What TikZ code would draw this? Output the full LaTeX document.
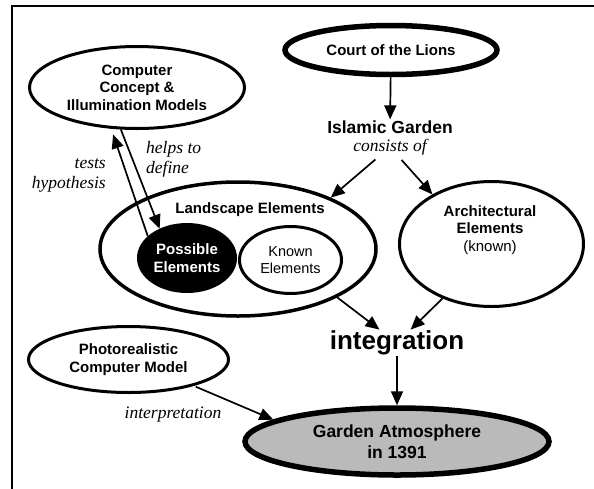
\documentclass[tikz,border=0pt]{standalone}
\usepackage{fontspec}
\setmainfont{Liberation Sans}
\newfontfamily\notefont{Liberation Serif}
\usepackage{tikz}
\usetikzlibrary{arrows.meta}
\usetikzlibrary{shapes.geometric}
\definecolor{gardengray}{gray}{0.73}
\tikzset{bubble/.style={ellipse, draw, line width=3pt, fill=white, inner sep=0pt, align=center, font=\bfseries\fontsize{15}{17.5}\selectfont}, heavy bubble/.style={bubble, line width=5.5pt}, link/.style={-{Triangle[length=14pt,width=12pt]}, line width=1.7pt}, note/.style={font=\notefont\itshape\fontsize{17.5}{20}\selectfont, inner sep=1pt}, title/.style={font=\bfseries\fontsize{17.5}{20}\selectfont, inner sep=1pt}}

\begin{document}
\begin{tikzpicture}[x=1pt,y=-1pt]
\useasboundingbox (0,0) rectangle (594,488);
\clip (0,0) rectangle (594,488);
\draw[line width=1.8pt] (12,6) rectangle (610,500);

\node[heavy bubble, minimum width=212pt, minimum height=49pt] (lions) at (391,50) {Court of the Lions};
\node[title] (islam) at (390,127) {Islamic Garden};
\node[note] (consists) at (390,147) {consists of};

\node[bubble, minimum width=215pt, minimum height=82pt] (cci) at (137,87.5) {Computer\\Concept \&\\Illumination Models};

\node[bubble, line width=3.5pt, minimum width=276pt, minimum height=134pt] (lands) at (238,249) {};
\node[font=\bfseries\fontsize{15}{17.5}\selectfont] (landstext) at (250,210) {Landscape Elements};
\node[bubble, fill=black, text=white, minimum width=97pt, minimum height=67pt] (poss) at (187,258) {Possible\\Elements};
\node[bubble, font=\fontsize{14.5}{17.5}\selectfont, minimum width=102pt, minimum height=67pt] (known) at (290.5,260) {Known\\Elements};

\node[bubble, minimum width=184pt, minimum height=125pt] (arch) at (491.5,244) {};
\node[align=center, font=\bfseries\fontsize{15}{17.5}\selectfont] (archtext) at (490,230) {Architectural\\Elements\\\mdseries(known)};

\node[font=\bfseries\fontsize{26}{30}\selectfont, inner sep=1pt] (integ) at (397,343) {integration};

\node[bubble, minimum width=200pt, minimum height=66pt] (photo) at (128.5,359.5) {Photorealistic\\Computer Model};
\node[heavy bubble, fill=gardengray, font=\bfseries\fontsize{17.5}{21.5}\selectfont, minimum width=304pt, minimum height=67pt] (garden) at (397,441.5) {Garden Atmosphere\\in 1391};

\node[note, align=right, anchor=east] (tests) at (107,175) {tests\\hypothesis};
\node[note, align=left, anchor=west] (helps) at (145,159) {helps to\\define};
\node[note] (interp) at (173,415) {interpretation};

\draw[link] (lions) -- (islam);
\draw[link, shorten <=5pt] (consists) -- (lands.29);
\draw[link, shorten <=5pt] (consists) -- (arch.140);
\draw[link] (lands.334) -- (integ);
\draw[link] (arch.228) -- (integ);
\draw[link] (integ) -- (garden);
\draw[link, shorten <=2pt] (photo.338) -- (garden.170);
\draw[link, shorten >=6pt] (poss.151) -- (cci.238);
\draw[link] (cci.249) -- (poss.133);
\end{tikzpicture}
\end{document}
